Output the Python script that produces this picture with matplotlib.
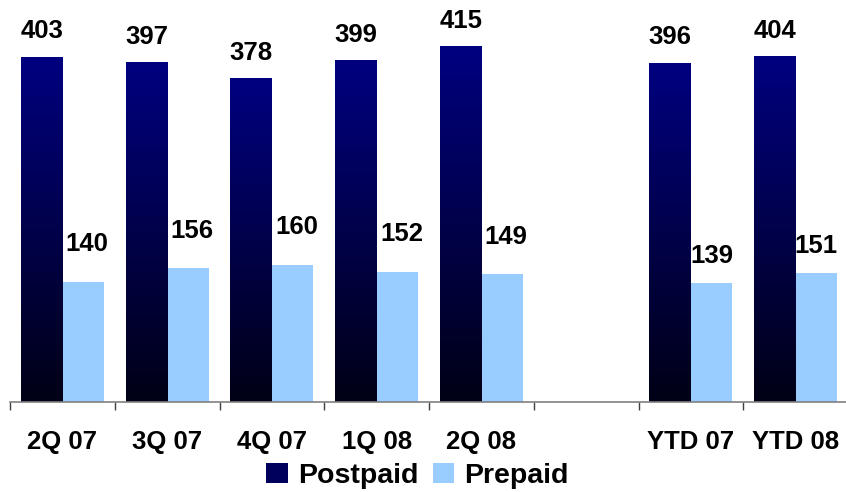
import numpy as np
import matplotlib
matplotlib.use("Agg")
import matplotlib.pyplot as plt
from matplotlib.patches import Patch

plt.rcParams['font.family'] = ['Liberation Sans', 'DejaVu Sans']
plt.rcParams['font.weight'] = 'bold'

categories = ["2Q 07", "3Q 07", "4Q 07", "1Q 08", "2Q 08", "", "YTD 07", "YTD 08"]
postpaid = [403, 397, 378, 399, 415, None, 396, 404]
prepaid = [140, 156, 160, 152, 149, None, 139, 151]

NAVY_TOP = np.array([0, 0, 128]) / 255
NAVY_BOT = np.array([0, 0, 22]) / 255
LIGHT = "#99CCFF"

fig = plt.figure(figsize=(8.46, 4.92), dpi=100)
ax = fig.add_axes([10 / 846, 1 - 402 / 492, 838 / 846, 402 / 492])

x = np.arange(len(categories))
w = 0.395
post_vals = [np.nan if v is None else v for v in postpaid]
pre_vals = [np.nan if v is None else v for v in prepaid]

post_bars = ax.bar(x - w / 2, post_vals, w, color=NAVY_TOP, linewidth=0)
pre_bars = ax.bar(x + w / 2, pre_vals, w, color=LIGHT, linewidth=0)

# vertical navy-to-black fill on each postpaid bar
grad = np.linspace(0, 1, 256)[:, None, None]
img = NAVY_BOT * (1 - grad) + NAVY_TOP * grad
for bar in post_bars:
    h = bar.get_height()
    if np.isnan(h):
        continue
    x0 = bar.get_x()
    im = ax.imshow(img, extent=(x0, x0 + bar.get_width(), 0, h),
                   origin='lower', aspect='auto', zorder=2)
    im.set_clip_path(bar)

label_kw = dict(textcoords='offset points', ha='center', va='bottom',
                fontsize=18.5, fontweight='bold')
for bar, v in zip(post_bars, postpaid):
    if v is None:
        continue
    ax.annotate(f"{v}", (bar.get_x() + bar.get_width() / 2, v),
                xytext=(0, 9.5), **label_kw)
for i, (bar, v) in enumerate(zip(pre_bars, prepaid)):
    if v is None:
        continue
    # quarterly prepaid labels sit higher and a touch to the right
    dx, dy = (3, 18.5) if i < 5 else (0, 10.5)
    ax.annotate(f"{v}", (bar.get_x() + bar.get_width() / 2, v),
                xytext=(dx, dy), **label_kw)

ax.set_xlim(-0.5, len(categories) - 0.5)
ax.set_ylim(0, 469)

ax.set_xticks(x)
ax.set_xticklabels(categories, fontsize=18.5, fontweight='bold')
ax.tick_params(axis='x', which='major', length=0, pad=20)
ax.set_xticks(np.arange(-0.5, len(categories) - 0.4, 1), minor=True)
ax.tick_params(axis='x', which='minor', length=6, width=1, color='#404040')
ax.set_yticks([])

for side in ('top', 'right', 'left'):
    ax.spines[side].set_visible(False)
ax.spines['bottom'].set_color('#808080')
ax.spines['bottom'].set_linewidth(1.2)

handles = [Patch(facecolor=(0, 0, 0.36), label='Postpaid'),
           Patch(facecolor=LIGHT, label='Prepaid')]
fig.legend(handles=handles, loc='center', bbox_to_anchor=(0.4935, 0.0325),
           ncol=2, frameon=False, fontsize=20.5, handlelength=0.75,
           handleheight=0.68, handletextpad=0.36, columnspacing=0.5,
           borderpad=0, borderaxespad=0)

fig.savefig("out.png", dpi=100)
